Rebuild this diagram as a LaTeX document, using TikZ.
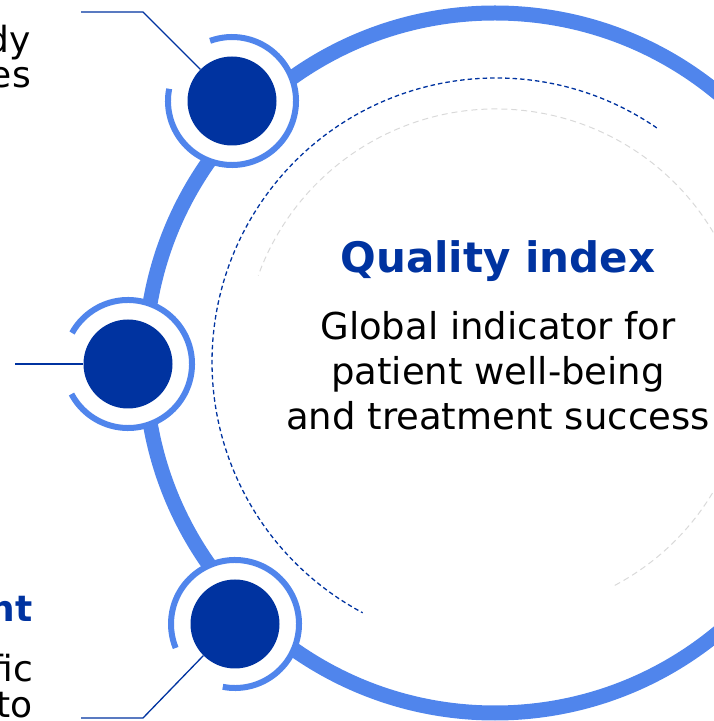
\documentclass[tikz,border=0pt]{standalone}
\usepackage{fontspec}
\setmainfont{DejaVu Sans}
\definecolor{dkblue}{RGB}{0,51,160}
\definecolor{ltblue}{RGB}{80,133,236}
\definecolor{ltgrey}{RGB}{217,217,217}
\tikzset{
  bigring/.style={draw=ltblue, line width=15pt},
  nodering/.style={draw=ltblue, line width=6pt},
  core/.style={circle, fill=dkblue, minimum size=89pt, inner sep=0pt},
  mask/.style={fill=white},
  conn/.style={draw=dkblue, line width=1.3pt},
  bluedash/.style={draw=dkblue, line width=1.3pt, dash pattern=on 4.5pt off 3pt},
  greydash/.style={draw=ltgrey, line width=1pt, dash pattern=on 6pt off 4pt},
  title/.style={font=\bfseries\fontsize{42}{50}\selectfont, text=dkblue, anchor=base, inner sep=0pt},
  body/.style={font=\fontsize{37}{44}\selectfont, text=black, anchor=base, inner sep=0pt},
  side/.style={font=\fontsize{36}{42}\selectfont, text=black, anchor=base east, inner sep=0pt},
  sidetitle/.style={font=\bfseries\fontsize{36}{42}\selectfont, text=dkblue, anchor=base east, inner sep=0pt}
}
\begin{document}
\begin{tikzpicture}[x=1pt,y=1pt]
\useasboundingbox (0,0) rectangle (714,721);
\clip (0,0) rectangle (714,721);
% big ring and dashed arcs
\coordinate (ctr) at (495,358);
\coordinate (dctr) at (496,359);
\draw[bigring] (ctr) circle[radius=350pt];
\draw[bluedash] ([shift={(55.5:284pt)}]dctr) arc[start angle=55.5, end angle=242, radius=284pt];
\draw[greydash] ([shift={(-62:253pt)}]dctr) arc[start angle=-62, end angle=160, radius=253pt];
% central text
\node[title] (qt) at (498,448) {Quality index};
\node[body] (l1) at (498,381) {Global indicator for};
\node[body] (l2) at (498,336) {patient well-being};
\node[body] (l3) at (498,291) {and treatment success};
% side texts (cropped at the picture's edge)
\node[side] (s1) at (31,668) {dy};
\node[side] (s2) at (31,633) {es};
\node[sidetitle] (s3) at (33,99) {nt};
\node[side] (s4) at (33,39) {fic};
\node[side] (s5) at (33,3) {to};
% nodes
\coordinate (p1) at (232,620);
\coordinate (p2) at (128,357);
\coordinate (p3) at (235,97);
\fill[mask] (p1) circle[radius=66pt];
\fill[mask] (p2) circle[radius=66pt];
\fill[mask] (p3) circle[radius=66pt];
\draw[nodering] ([shift={(169:64pt)}]p1) arc[start angle=169, end angle=470, radius=64pt];
\draw[nodering] ([shift={(208:64pt)}]p2) arc[start angle=208, end angle=511, radius=64pt];
\draw[nodering] ([shift={(259:64pt)}]p3) arc[start angle=259, end angle=562, radius=64pt];
\node[core] (n1) at (p1) {};
\node[core] (n2) at (p2) {};
\node[core] (n3) at (p3) {};
% connectors
\coordinate (k1) at (143,709);
\coordinate (e1) at (81,709);
\coordinate (e2) at (15,357);
\coordinate (k3) at (143,3);
\coordinate (e3) at (81,3);
\draw[conn] (n1.135) -- (k1) -- (e1);
\draw[conn] (n2.west) -- (e2);
\draw[conn] (n3.225) -- (k3) -- (e3);
\end{tikzpicture}
\end{document}
